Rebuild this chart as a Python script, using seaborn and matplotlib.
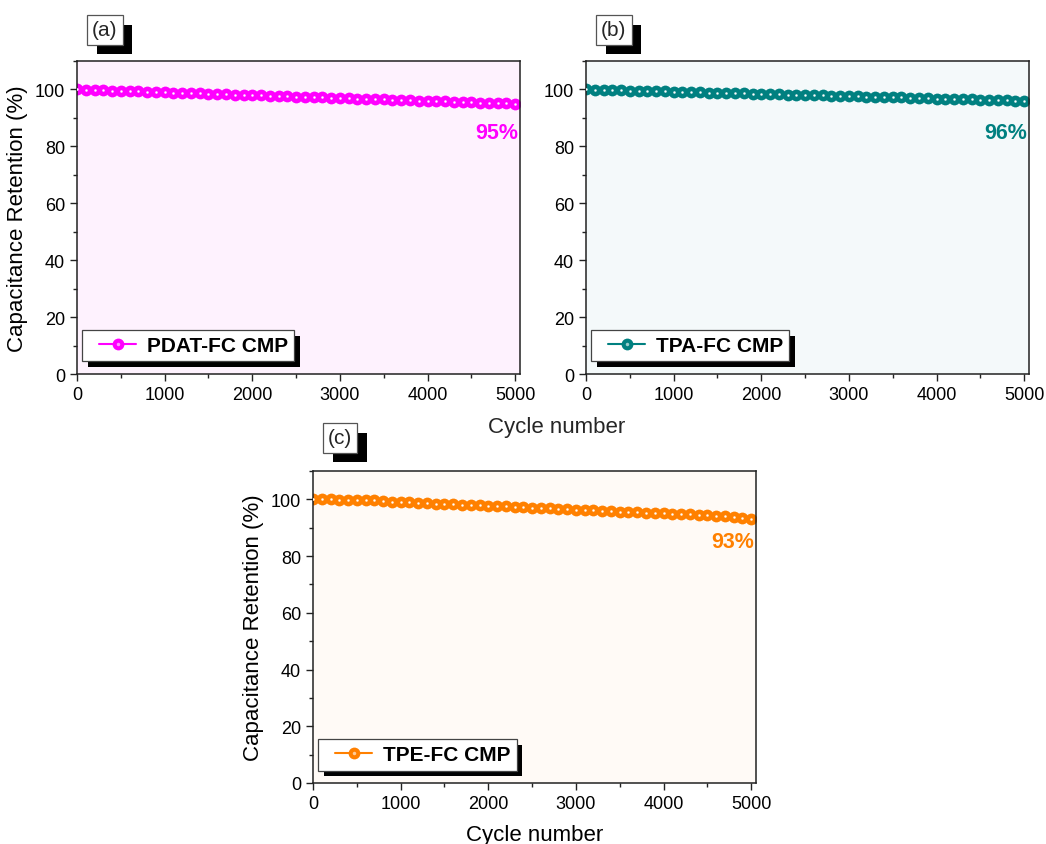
import numpy as np
import pandas as pd
import matplotlib
matplotlib.use("Agg")
import matplotlib.pyplot as plt
import matplotlib.patheffects as pe
from matplotlib.ticker import MultipleLocator
from matplotlib.legend_handler import HandlerTuple
import seaborn as sns

# cycle numbers (one point every 100 cycles)
cycles = [0, 100, 200, 300, 400, 500, 600, 700, 800, 900,
          1000, 1100, 1200, 1300, 1400, 1500, 1600, 1700, 1800, 1900,
          2000, 2100, 2200, 2300, 2400, 2500, 2600, 2700, 2800, 2900,
          3000, 3100, 3200, 3300, 3400, 3500, 3600, 3700, 3800, 3900,
          4000, 4100, 4200, 4300, 4400, 4500, 4600, 4700, 4800, 4900, 5000]

# capacitance retention (%)
pdat_ret = [100.0, 99.9, 99.8, 99.7, 99.6, 99.5, 99.4, 99.3, 99.2, 99.1,
            99.0, 98.9, 98.8, 98.7, 98.6, 98.5, 98.4, 98.3, 98.2, 98.1,
            98.0, 97.9, 97.8, 97.7, 97.6, 97.5, 97.4, 97.3, 97.2, 97.1,
            97.0, 96.9, 96.8, 96.7, 96.6, 96.5, 96.4, 96.3, 96.2, 96.1,
            96.0, 95.9, 95.8, 95.7, 95.6, 95.5, 95.4, 95.3, 95.2, 95.1, 95.0]
tpa_ret = [100.0, 99.9, 99.9, 99.8, 99.7, 99.6, 99.6, 99.5, 99.4, 99.3,
           99.2, 99.2, 99.1, 99.0, 98.9, 98.8, 98.8, 98.7, 98.6, 98.5,
           98.4, 98.4, 98.3, 98.2, 98.1, 98.0, 98.0, 97.9, 97.8, 97.7,
           97.6, 97.6, 97.5, 97.4, 97.3, 97.2, 97.2, 97.1, 97.0, 96.9,
           96.8, 96.8, 96.7, 96.6, 96.5, 96.4, 96.4, 96.3, 96.2, 96.1, 96.0]
tpe_ret = [100.0, 100.0, 100.0, 99.9, 99.9, 99.9, 99.8, 99.8, 99.3, 99.2,
           99.0, 98.9, 98.8, 98.6, 98.5, 98.4, 98.2, 98.1, 98.0, 97.9,
           97.7, 97.6, 97.5, 97.3, 97.2, 97.1, 96.9, 96.8, 96.7, 96.5,
           96.4, 96.3, 96.1, 96.0, 95.9, 95.7, 95.6, 95.5, 95.3, 95.2,
           95.1, 94.9, 94.8, 94.7, 94.5, 94.4, 94.2, 94.0, 93.8, 93.5, 93.0]

labels = ["PDAT-FC CMP", "TPA-FC CMP", "TPE-FC CMP"]
final_txt = ["95%", "96%", "93%"]
panel_tags = ["(a)", "(b)", "(c)"]
colors = ["#FF00FF", "#008080", "#FF8000"]
bg_colors = ["#FEF2FE", "#F4F9FA", "#FFFAF6"]

sns.set_style("ticks")
plt.rcParams["font.family"] = ["Liberation Sans", "DejaVu Sans"]

W, H = 1046, 845
fig = plt.figure(figsize=(W / 100, H / 100), dpi=100)

# axes positions in pixels: left, right, top, bottom
boxes = [(77, 520, 62, 375), (586, 1029, 62, 375), (313, 756, 472, 784)]
# panel tag text anchor (left x, center y) in pixels
tag_pos = [(92, 31), (601, 31), (328, 439)]
series = [pdat_ret, tpa_ret, tpe_ret]

for i in range(3):
    l, r, t, b = boxes[i]
    ax = fig.add_axes([l / W, 1 - b / H, (r - l) / W, (b - t) / H])
    ax.set_facecolor(bg_colors[i])
    df = pd.DataFrame({"cycle": cycles, "ret": series[i]})
    col = colors[i]
    light = tuple(0.4 * np.array(matplotlib.colors.to_rgb(col)) + 0.6)

    sns.lineplot(data=df, x="cycle", y="ret", color=col, marker="o", markersize=8.5,
                 markeredgewidth=0, linewidth=1.5, ax=ax, label=labels[i], legend=False)
    sns.scatterplot(data=df, x="cycle", y="ret", color=[light], s=4, linewidth=0, ax=ax, zorder=3)
    sns.scatterplot(data=df, x="cycle", y="ret", color=["white"], s=1.5, linewidth=0, ax=ax, zorder=4)

    ax.set_xlim(0, 5055)
    ax.set_ylim(0, 110)
    ax.xaxis.set_major_locator(MultipleLocator(1000))
    ax.xaxis.set_minor_locator(MultipleLocator(500))
    ax.yaxis.set_major_locator(MultipleLocator(20))
    ax.yaxis.set_minor_locator(MultipleLocator(10))
    ax.tick_params(which="major", direction="out", length=5, width=1, labelsize=13,
                   colors="#222222", labelcolor="black")
    ax.tick_params(which="minor", direction="out", length=3, width=1, colors="#222222")
    for s in ax.spines.values():
        s.set_linewidth(1.1)
        s.set_color("#222222")
    ax.set_xlabel("")
    if i == 1:
        ax.set_ylabel("")
    else:
        ax.set_ylabel("Capacitance Retention (%)", fontsize=16, labelpad=5, color="black")
    if i == 2:
        ax.set_xlabel("Cycle number", fontsize=16, labelpad=9, color="black")

    ax.text(5030, 85, final_txt[i], color=col, fontsize=15.5, fontweight="bold",
            ha="right", va="center")

    # legend handle: line+marker with highlight on top
    h_main = ax.lines[0]
    h_light = plt.Line2D([], [], linestyle="none", marker="o", markersize=2.5,
                         markerfacecolor=light, markeredgewidth=0)
    leg = ax.legend([(h_main, h_light)], [labels[i]],
                    handler_map={tuple: HandlerTuple(ndivide=1, xpad=0.5)},
                    loc="lower left", bbox_to_anchor=(0.012, 0.04), borderaxespad=0,
                    fancybox=False, framealpha=1, edgecolor="#444444",
                    prop={"weight": "bold", "size": 15}, handlelength=2.3,
                    handletextpad=0.5, borderpad=0.3, labelcolor="black")
    leg.get_frame().set_linewidth(0.9)
    leg.get_frame().set_path_effects(
        [pe.SimplePatchShadow(offset=(4, -4), shadow_rgbFace="k", alpha=1), pe.Normal()])

    # panel tag
    tx, ty = tag_pos[i]
    tag = fig.text(tx / W, 1 - ty / H, panel_tags[i], fontsize=15, ha="left", va="center",
                   bbox=dict(boxstyle="square,pad=0.25", facecolor="white",
                             edgecolor="#555555", linewidth=0.9))
    tag.get_bbox_patch().set_path_effects(
        [pe.SimplePatchShadow(offset=(7, -7), shadow_rgbFace="k", alpha=1), pe.Normal()])

fig.text(557 / W, 1 - 428 / H, "Cycle number", fontsize=16, ha="center", va="center")

fig.savefig("out.png", dpi=100)
